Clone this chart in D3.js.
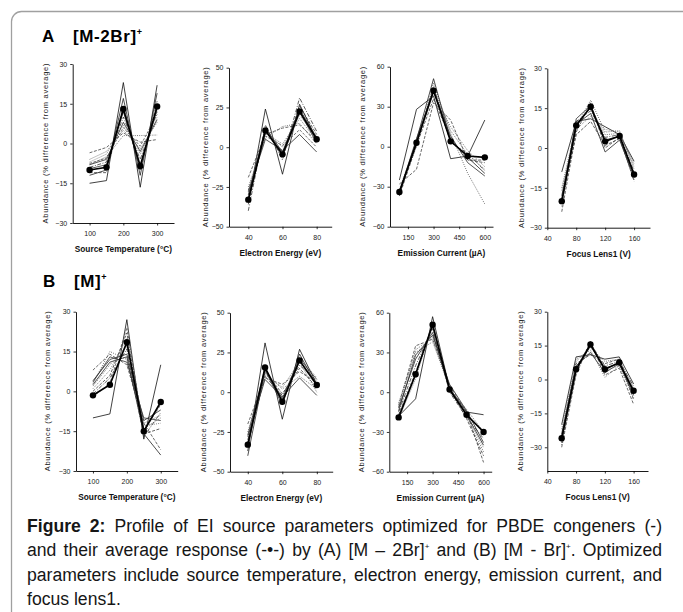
<!DOCTYPE html>
<html><head><meta charset="utf-8">
<script src="https://cdn.jsdelivr.net/npm/d3@7/dist/d3.min.js"></script>
<style>
html,body{margin:0;padding:0;background:#fff;}
body{width:683px;height:612px;overflow:hidden;position:relative;font-family:"Liberation Sans",Arial,sans-serif;}
#chart{position:absolute;left:0;top:0;}
#caption{position:absolute;left:27px;top:514px;width:635px;font-size:17.6px;line-height:24.3px;color:#161616;}
#caption .ln{text-align:justify;text-align-last:justify;}
#caption .last{text-align:left;text-align-last:left;}
#caption sup{font-size:8px;vertical-align:7px;line-height:0;}
</style>
</head><body>
<div id="chart"></div>
<div id="caption">
<div class="ln"><b>Figure 2:</b> Profile of EI source parameters optimized for PBDE congeners (-)</div>
<div class="ln">and their average response (-•-) by (A) [M – 2Br]<sup>+</sup> and (B) [M - Br]<sup>+</sup>. Optimized</div>
<div class="ln">parameters include source temperature, electron energy, emission current, and</div>
<div class="ln last">focus lens1.</div>
</div>
<script>
// ---------------- DATA ----------------
const xTemp = [100, 150, 200, 250, 300];
const xEnergy = [40, 50, 60, 70, 80];
const xCurrent = [100, 200, 300, 400, 500, 600];
const xLens = [60, 80, 100, 120, 140, 160];

const ticksTemp = [100, 200, 300];
const ticksEnergy = [40, 60, 80];
const ticksCurrent = [150, 300, 450, 600];
const ticksLens = [40, 80, 120, 160];
const ticksY30 = [-30, -15, 0, 15, 30];
const ticksY50 = [-50, -25, 0, 25, 50];
const ticksY60 = [-60, -30, 0, 30, 60];

// Panel A  [M-2Br]+
const avgTempA = [-10, -9, 13, -8.5, 14];
const linesTempA = [
  [-15, -14, 23, -16.5, 22],
  [-3.5, -1.5, 4, 0.5, 1.5],
  [-8, -5, 3, 3, 3.2],
  [-12, -10, 17, -12, 19],
  [-9, -7, 10, -6, 12],
  [-7, -4, 7, -4, 10],
  [-8, -6, 8, -3, 9],
  [-11, -11, 14, -10, 16],
  [-6, -3, 5, -2, 8],
  [-9.5, -8, 12, -9, 13],
  [-7.5, -5.5, 6, -1, 11]
];
const avgEnergyA = [-33, 10.5, -4.5, 22.5, 5];
const linesEnergyA = [
  [-35, 24, -17, 27, 5],
  [-19, 8, 12, 14, 4],
  [-25, 6, 13, 15, 2],
  [-30, 12, -3, 24, 6],
  [-40, 14, -8, 31, 10],
  [-33, 10, 0, 20, 7],
  [-28, 5, -2, 8, -3],
  [-36, 12, -5, 26, 8],
  [-31, 9, 2, 18, 4],
  [-34, 11, -6, 22, 3],
  [-27, 7, 1, 11, 0]
];
const avgCurrentA = [-34, 3, 42, 4, -7, -8];
const linesCurrentA = [
  [-25, 28, 38, -9, -7, 20],
  [-28, -17, 33, 20, -10, -12],
  [-33, 0, 48, 10, -20, -43],
  [-36, 5, 51, 5, -8, -20],
  [-35, 2, 45, 3, -5, -18],
  [-32, 4, 40, 15, -3, -15],
  [-34, 6, 42, 8, -12, -22],
  [-37, 1, 36, 6, -10, -10],
  [-33, 3, 44, 12, -6, -17]
];
const avgLensA = [-20, 8.5, 15.5, 2.5, 4.5, -10];
const linesLensA = [
  [-9, 10, 11, 8, 5, -5],
  [-24, 6, 17, 0, 4, -12.5],
  [-22, 8, 18, 6, 6.5, -8],
  [-18, 9, 13, -1.5, 3, -11],
  [-20, 10, 14, 4, 5, -9],
  [-16, 7, 12, 7, 6, -7],
  [-21, 11, 16, 3, 4.5, -10],
  [-19, 5, 10, 1, 3.5, -12],
  [-15, 9, 15, 5, 5.5, -6]
];

// Panel B  [M]+
const avgTempB = [-1.5, 2.5, 18.5, -15, -4];
const linesTempB = [
  [-10, -8.5, 27, -18, 10],
  [8, 14, 10, -12, -22],
  [3, 15, 12, -14, -10],
  [2.5, 11, 13, -16, -24],
  [-1, 5, 16, -17, -8],
  [1, 8, 20, -13, -12],
  [4, 12, 14, -11, -7],
  [0, 6, 22, -16, -14],
  [2, 10, 17, -12, -9],
  [3.5, 13, 11, -10, -11],
  [-2, 3, 24, -15, -5]
];
const avgEnergyB = [-33, 15.5, -6, 20, 4.5];
const linesEnergyB = [
  [-37, 31, -17, 27, 5],
  [-20, 9, 5, 13, 6],
  [-25, 12, 2, 10, 2],
  [-40, 14, -8, 24, 4],
  [-30, 10, -2, 17, 7],
  [-35, 16, -5, 22, 9],
  [-28, 8, -3, 9, -2],
  [-32, 13, -1, 15, 3],
  [-33, 11, 3, 19, 0],
  [-27, 15, -4, 21, 8]
];
const avgCurrentB = [-19, 13.5, 51, 2, -17, -30];
const linesCurrentB = [
  [-18, -5, 57, 3, -15, -17],
  [-10, 35, 40, 5, -15, -53],
  [-8, 30, 38, 4, -18, -45],
  [-12, 25, 45, 2, -17, -40],
  [-15, 20, 48, 0, -19, -35],
  [-20, 10, 52, 1, -16, -42],
  [-14, 28, 43, 6, -14, -38],
  [-17, 15, 50, 3, -20, -48],
  [-11, 32, 41, 2, -13, -30]
];
const avgLensB = [-26, 4.5, 15.5, 4.5, 7.5, -5];
const linesLensB = [
  [-20, 10, 11, 9, 10, -2],
  [-30, 2, 17, 2, 5, -11],
  [-27, 8, 14, 8, 9, -4],
  [-24, 6, 12, 3, 7, -7],
  [-28, 5, 16, 6, 8, -3],
  [-22, 9, 13, 1, 6, -8],
  [-26, 4, 15, 5, 7, -6],
  [-25, 7, 11, 7, 9, -9],
  [-29, 3, 16, 4, 6, -5]
];

const titleTemp = "Source Temperature (°C)";
const titleEnergy = "Electron Energy (eV)";
const titleCurrent = "Emission Current (µA)";
const titleLens = "Focus Lens1 (V)";
const titleY = "Abundance (% difference from average)";

// ---------------- LAYOUT ----------------
const W = 683, H = 612;
const svg = d3.select('#chart').append('svg').attr('width', W).attr('height', H)
  .style('font-family', '"Liberation Sans", Arial, sans-serif');

svg.append('path')
  .attr('d', 'M11.5,612 L11.5,21.5 A10,10 0 0 1 21.5,11.5 L683,11.5')
  .attr('fill', 'none').attr('stroke', '#a0a0a0').attr('stroke-width', 1.3);

function heading(x, y, letter, ion) {
  const t = svg.append('text').attr('x', x).attr('y', y)
    .style('font-size', '17px').style('font-weight', 'bold').attr('fill', '#000');
  t.append('tspan').text(letter);
  t.append('tspan').attr('x', x + 31).style('letter-spacing', '0.6px').text(ion);
  t.append('tspan').attr('dy', -7).style('font-size', '9px').text('+');
}
heading(42, 41.5, 'A', '[M-2Br]');
heading(43, 286.5, 'B', '[M]');

const panels = [
  {x: xTemp, avg: avgTempA, lines: linesTempA, xd: [50, 350], yd: [-30, 30], xt: ticksTemp, yt: ticksY30, L: 72.7, R: 174, T: 64, B: 223, tx: titleTemp, ytx: 25},
  {x: xEnergy, avg: avgEnergyA, lines: linesEnergyA, xd: [28.7, 88.8], yd: [-50, 50], xt: ticksEnergy, yt: ticksY50, L: 229, R: 331.7, T: 67.7, B: 226.7, tx: titleEnergy, ytx: 21.5},
  {x: xCurrent, avg: avgCurrentA, lines: linesCurrentA, xd: [45, 648], yd: [-60, 60], xt: ticksCurrent, yt: ticksY60, L: 390, R: 493, T: 66.7, B: 226.7, tx: titleCurrent, ytx: 25.5},
  {x: xLens, avg: avgLensA, lines: linesLensA, xd: [40, 182], yd: [-30, 30], xt: ticksLens, yt: ticksY30, L: 547.3, R: 650, T: 68.3, B: 227.7, tx: titleLens, ytx: 23},
  {x: xTemp, avg: avgTempB, lines: linesTempB, xd: [50, 350], yd: [-30, 30], xt: ticksTemp, yt: ticksY30, L: 76, R: 177.7, T: 311.7, B: 471, tx: titleTemp, ytx: 26.5},
  {x: xEnergy, avg: avgEnergyB, lines: linesEnergyB, xd: [29.7, 89.2], yd: [-50, 50], xt: ticksEnergy, yt: ticksY50, L: 230, R: 332.7, T: 312.7, B: 471.7, tx: titleEnergy, ytx: 24},
  {x: xCurrent, avg: avgCurrentB, lines: linesCurrentB, xd: [45, 648], yd: [-60, 60], xt: ticksCurrent, yt: ticksY60, L: 389.3, R: 491.7, T: 312.7, B: 471.7, tx: titleCurrent, ytx: 25},
  {x: xLens, avg: avgLensB, lines: linesLensB, xd: [40, 180], yd: [-40.5, 30], xt: ticksLens, yt: ticksY30, L: 547.3, R: 648, T: 311.7, B: 471, tx: titleLens, ytx: 24.5}
];

const dashes = [null, '3,1.5', '1,1.2', null, '4,1.5,1,1.5', '1,1.2', null, '3,1.5', '1,1.2', null, '2.5,1.5'];
const greys = ['#111', '#444', '#555', '#222', '#333', '#666', '#2a2a2a', '#3a3a3a', '#555', '#333', '#4a4a4a'];

panels.forEach(p => {
  const g = svg.append('g');
  const x = d3.scaleLinear().domain(p.xd).range([p.L, p.R]);
  const y = d3.scaleLinear().domain(p.yd).range([p.B, p.T]);

  const xa = g.append('g').attr('transform', `translate(0,${p.B})`)
    .call(d3.axisBottom(x).tickValues(p.xt).tickSize(2.5).tickSizeOuter(0).tickPadding(6));
  const ya = g.append('g').attr('transform', `translate(${p.L},0)`)
    .call(d3.axisLeft(y).tickValues(p.yt).tickSize(2.5).tickSizeOuter(0).tickPadding(3));
  [xa, ya].forEach(a => {
    a.select('.domain').attr('stroke', '#000').attr('stroke-width', 0.9);
    a.selectAll('.tick line').attr('stroke', '#000').attr('stroke-width', 0.8);
    a.selectAll('.tick text').style('font-size', '7px').attr('fill', '#222')
      .style('font-family', '"Liberation Sans", Arial, sans-serif');
  });

  const line = d3.line().x((d, i) => x(p.x[i])).y(d => y(d));
  p.lines.forEach((l, i) => {
    g.append('path').attr('d', line(l)).attr('fill', 'none')
      .attr('stroke', greys[i % greys.length]).attr('stroke-width', 0.8)
      .attr('stroke-dasharray', dashes[i % dashes.length]);
  });
  g.append('path').attr('d', line(p.avg)).attr('fill', 'none')
    .attr('stroke', '#000').attr('stroke-width', 1.7);
  g.selectAll('circle.avg').data(p.avg).enter().append('circle')
    .attr('cx', (d, i) => x(p.x[i])).attr('cy', d => y(d)).attr('r', 3.2).attr('fill', '#000');

  g.append('text').attr('x', (p.L + p.R) / 2).attr('y', p.B + 29)
    .attr('text-anchor', 'middle').style('font-size', '8.3px').style('font-weight', 'bold')
    .attr('fill', '#111').text(p.tx);
  g.append('text')
    .attr('transform', `translate(${p.L - p.ytx},${(p.T + p.B) / 2}) rotate(-90)`)
    .attr('text-anchor', 'middle').style('font-size', '7.5px').attr('fill', '#222')
    .attr('textLength', 160).attr('lengthAdjust', 'spacing').text(titleY);
});
</script>
</body></html>
